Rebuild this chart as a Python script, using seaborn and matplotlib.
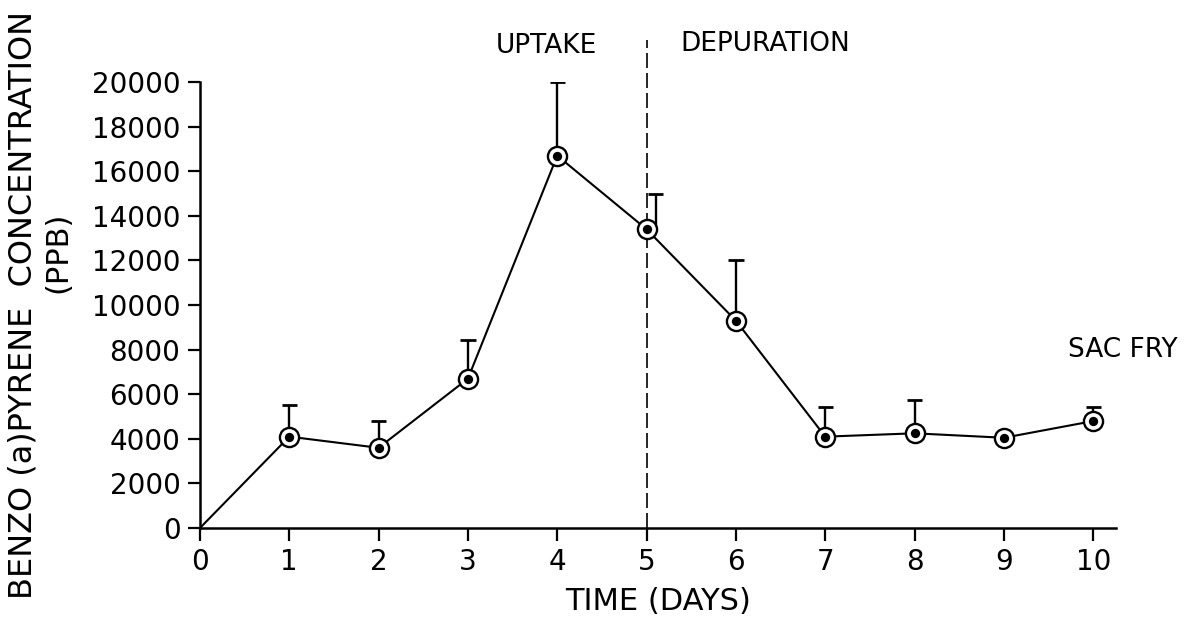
import numpy as np
import pandas as pd
import matplotlib
matplotlib.use("Agg")
import matplotlib.pyplot as plt
import seaborn as sns

# Benzo(a)pyrene concentration over time (uptake days 0-5, depuration days 5-10)
days = [0, 1, 2, 3, 4, 5, 6, 7, 8, 9, 10]
conc_ppb = [0, 4100, 3600, 6700, 16700, 13400, 9300, 4100, 4250, 4050, 4800]
upper_ppb = [np.nan, 5500, 4800, 8450, 20000, 15000, 12000, 5450, 5750, np.nan, 5450]
bar_shift = [0, 0, 0, 0, 0, 0.1, 0, 0, 0, 0, 0]
yticks = [0, 2000, 4000, 6000, 8000, 10000, 12000, 14000, 16000, 18000, 20000]
xticks = [0, 1, 2, 3, 4, 5, 6, 7, 8, 9, 10]

df = pd.DataFrame({"day": days, "conc": conc_ppb, "upper": upper_ppb,
                   "shift": bar_shift})

sns.set_theme(style="white")
plt.rcParams["font.family"] = ["DejaVu Sans"]
plt.rcParams["text.color"] = "black"
plt.rcParams["xtick.color"] = "black"
plt.rcParams["ytick.color"] = "black"
plt.rcParams["axes.labelcolor"] = "black"

fig = plt.figure(figsize=(11.97, 6.22), dpi=100)
ax = fig.add_axes([0.167, 0.151, 0.765, 0.717])

# connecting line
sns.lineplot(data=df, x="day", y="conc", ax=ax, color="black", lw=1.5,
             zorder=3, legend=False)

# upper error bars with caps
eb = df.dropna(subset=["upper"])
bx = eb["day"] + eb["shift"]
ax.vlines(bx, eb["conc"], eb["upper"], color="black", lw=1.7, zorder=2)
ax.hlines(eb["upper"], bx - 0.085, bx + 0.085, color="black", lw=2.0, zorder=2)

# bullseye markers: open ring with a filled centre
pts = df[df["day"] > 0]
sns.scatterplot(data=pts, x="day", y="conc", ax=ax, s=190, marker="o",
                facecolor="white", edgecolor="black", linewidth=1.7,
                zorder=4, legend=False)
sns.scatterplot(data=pts, x="day", y="conc", ax=ax, s=45, marker="o",
                color="black", linewidth=0, zorder=5, legend=False)

# uptake / depuration divider
ax.vlines(5, 0, 21900, colors="black", linestyles=(0, (9, 3)), lw=1.2,
          clip_on=False, zorder=1)
ax.text(4.45, 21600, "UPTAKE", ha="right", va="center", fontsize=19,
        clip_on=False)
ax.text(5.38, 21700, "DEPURATION", ha="left", va="center", fontsize=19,
        clip_on=False)
ax.text(9.72, 8000, "SAC FRY", ha="left", va="center", fontsize=19,
        clip_on=False)

ax.set_xlim(0, 10.25)
ax.set_ylim(0, 20000)
ax.set_xticks(xticks)
ax.set_yticks(yticks)
ax.set_xticklabels([str(t) for t in xticks], fontsize=20)
ax.set_yticklabels([str(t) for t in yticks], fontsize=20)
ax.tick_params(axis="both", which="both", direction="out", length=9,
               width=1.6, color="black", pad=5, bottom=True, left=True)
ax.tick_params(axis="x", pad=5)

for side in ["top", "right"]:
    ax.spines[side].set_visible(False)
for side in ["left", "bottom"]:
    ax.spines[side].set_color("black")
    ax.spines[side].set_linewidth(1.8)

ax.set_xlabel("TIME (DAYS)", fontsize=22, labelpad=8)
ax.set_ylabel("")

fig.text(0.006, 0.51, "BENZO (a)PYRENE  CONCENTRATION", rotation=90,
         ha="left", va="center", fontsize=23)
fig.text(0.036, 0.595, "(PPB)", rotation=90, ha="left", va="center",
         fontsize=22)

fig.savefig("out.png", dpi=100, facecolor="white")
